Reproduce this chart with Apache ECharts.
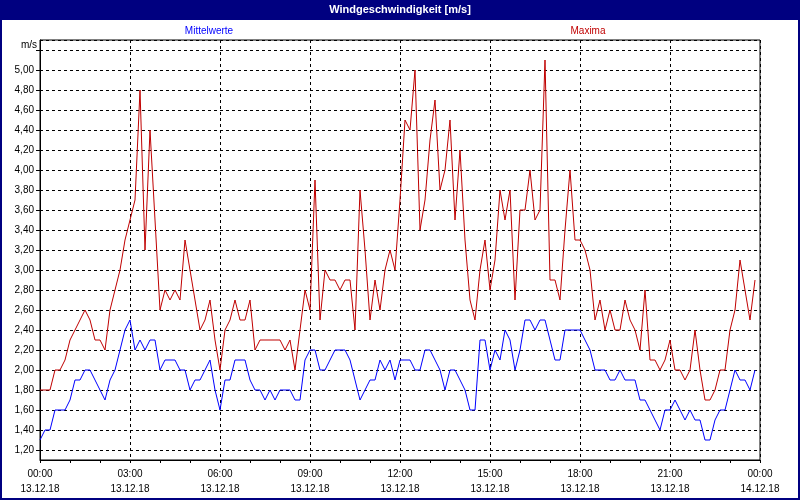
<!DOCTYPE html>
<html><head><meta charset="utf-8">
<script src="https://cdn.jsdelivr.net/npm/echarts@6/dist/echarts.min.js"></script>
<style>html,body{margin:0;padding:0;background:#fff}#c{width:800px;height:500px}</style>
</head><body><div id="c"></div>
<script>
// 10-minute samples, 13.12.18 00:00 .. 23:50
const stepMinutes = 10;
const maxima = [
  1.8,1.8,1.8,2.0,2.0,2.1,2.3,2.4,2.5,2.6,2.5,2.3,2.3,2.2,2.6,2.8,3.0,3.3,
  3.5,3.7,4.8,3.2,4.4,3.5,2.6,2.8,2.7,2.8,2.7,3.3,3.0,2.7,2.4,2.5,2.7,2.3,
  2.0,2.4,2.5,2.7,2.5,2.5,2.7,2.2,2.3,2.3,2.3,2.3,2.3,2.2,2.3,2.0,2.4,2.8,
  2.6,3.9,2.5,3.0,2.9,2.9,2.8,2.9,2.9,2.4,3.8,3.2,2.5,2.9,2.6,3.0,3.2,3.0,
  3.7,4.5,4.4,5.0,3.4,3.7,4.3,4.7,3.8,4.0,4.5,3.5,4.2,3.3,2.7,2.5,3.0,3.3,
  2.8,3.1,3.8,3.5,3.8,2.7,3.6,3.6,4.0,3.5,3.6,5.1,2.9,2.9,2.7,3.4,4.0,3.3,
  3.3,3.2,3.0,2.5,2.7,2.4,2.6,2.4,2.4,2.7,2.5,2.4,2.2,2.8,2.1,2.1,2.0,2.1,
  2.3,2.0,2.0,1.9,2.0,2.4,2.0,1.7,1.7,1.8,2.0,2.0,2.4,2.6,3.1,2.8,2.5,2.9
];
const mittelwerte = [
  1.3,1.4,1.4,1.6,1.6,1.6,1.7,1.9,1.9,2.0,2.0,1.9,1.8,1.7,1.9,2.0,2.2,2.4,
  2.5,2.2,2.3,2.2,2.3,2.3,2.0,2.1,2.1,2.1,2.0,2.0,1.8,1.9,1.9,2.0,2.1,1.8,
  1.6,1.9,1.9,2.1,2.1,2.1,1.9,1.8,1.8,1.7,1.8,1.7,1.8,1.8,1.8,1.7,1.7,2.1,
  2.2,2.2,2.0,2.0,2.1,2.2,2.2,2.2,2.1,1.9,1.7,1.8,1.9,1.9,2.1,2.0,2.1,1.9,
  2.1,2.1,2.1,2.0,2.0,2.2,2.2,2.1,2.0,1.8,2.0,2.0,1.9,1.8,1.6,1.6,2.3,2.3,
  2.0,2.2,2.1,2.4,2.3,2.0,2.2,2.5,2.5,2.4,2.5,2.5,2.3,2.1,2.1,2.4,2.4,2.4,
  2.4,2.3,2.2,2.0,2.0,2.0,1.9,1.9,2.0,1.9,1.9,1.9,1.7,1.7,1.6,1.5,1.4,1.6,
  1.6,1.7,1.6,1.5,1.6,1.5,1.5,1.3,1.3,1.5,1.6,1.6,1.8,2.0,1.9,1.9,1.8,2.0
];
const timeLabels = ['00:00','03:00','06:00','09:00','12:00','15:00','18:00','21:00','00:00'];
const dateLabels = ['13.12.18','13.12.18','13.12.18','13.12.18','13.12.18','13.12.18','13.12.18','13.12.18','14.12.18'];
const yLabelMin = 1.2, yLabelMax = 5.0;
const titleText = 'Windgeschwindigkeit [m/s]';
const seriesNames = ['Mittelwerte', 'Maxima'];
const unitText = 'm/s';

const FONT = '"Liberation Sans", Arial, sans-serif';
const toPairs = arr => arr.map((v, i) => [i * stepMinutes, v]);
const chart = echarts.init(document.getElementById('c'), null, {renderer: 'canvas'});
const fmtY = v => (v < yLabelMin - 1e-6 || v > yLabelMax + 1e-6) ? '' : v.toFixed(2).replace('.', ',');

chart.setOption({
  animation: false,
  backgroundColor: '#ffffff',
  textStyle: {fontFamily: FONT},
  grid: {left: 40, right: 40, top: 40, bottom: 40, show: true, borderColor: '#000', borderWidth: 1, backgroundColor: '#fff'},
  xAxis: {
    type: 'value', min: 0, max: 1440, interval: 180,
    axisLine: {lineStyle: {color: '#000', width: 1}},
    axisTick: {show: true, length: 3, lineStyle: {color: '#000'}},
    minorTick: {show: true, splitNumber: 3, length: 3, lineStyle: {color: '#000'}},
    splitLine: {show: true, lineStyle: {color: '#000', width: 1, type: [3, 3]}},
    axisLabel: {
      color: '#000', fontSize: 10, fontFamily: FONT, lineHeight: 15, margin: 7,
      showMinLabel: true, showMaxLabel: true,
      formatter: v => { const k = Math.round(v / 180); return timeLabels[k] + '\n' + dateLabels[k]; }
    }
  },
  yAxis: {
    type: 'value', min: 1.1, max: 5.3, splitNumber: 21, minInterval: 0.2, maxInterval: 0.2,
    axisLine: {show: true, lineStyle: {color: '#000', width: 1}},
    axisTick: {show: true, length: 4, lineStyle: {color: '#000'}},
    splitLine: {show: true, lineStyle: {color: '#000', width: 1, type: [3, 3]}},
    axisLabel: {
      color: '#000', fontSize: 10, fontFamily: FONT, margin: 6,
      showMinLabel: false, showMaxLabel: false,
      formatter: fmtY
    }
  },
  series: [
    {name: seriesNames[1], type: 'line', data: toPairs(maxima), showSymbol: false, symbol: 'none',
     lineStyle: {color: '#c00000', width: 1}, itemStyle: {color: '#c00000'}, z: 3},
    {name: seriesNames[0], type: 'line', data: toPairs(mittelwerte), showSymbol: false, symbol: 'none',
     lineStyle: {color: '#0000ff', width: 1}, itemStyle: {color: '#0000ff'}, z: 4}
  ],
  graphic: [
    {type: 'rect', shape: {x: 0, y: 0, width: 800, height: 20}, style: {fill: '#000080'}, z: 10},
    {type: 'rect', shape: {x: 1, y: 1, width: 798, height: 498}, style: {fill: null, stroke: '#000080', lineWidth: 2}, z: 10},
    {type: 'text', x: 400, y: 10, z: 11, style: {text: titleText, fill: '#fff', font: 'bold 11px ' + FONT, align: 'center', verticalAlign: 'middle'}},
    {type: 'text', x: 209, y: 31, z: 11, style: {text: seriesNames[0], fill: '#0000ff', font: '10px ' + FONT, align: 'center', verticalAlign: 'middle'}},
    {type: 'text', x: 588, y: 31, z: 11, style: {text: seriesNames[1], fill: '#c00000', font: '10px ' + FONT, align: 'center', verticalAlign: 'middle'}},
    {type: 'text', x: 37, y: 45, z: 11, style: {text: unitText, fill: '#000', font: '10px ' + FONT, align: 'right', verticalAlign: 'middle'}}
  ]
});
</script>
</body></html>
